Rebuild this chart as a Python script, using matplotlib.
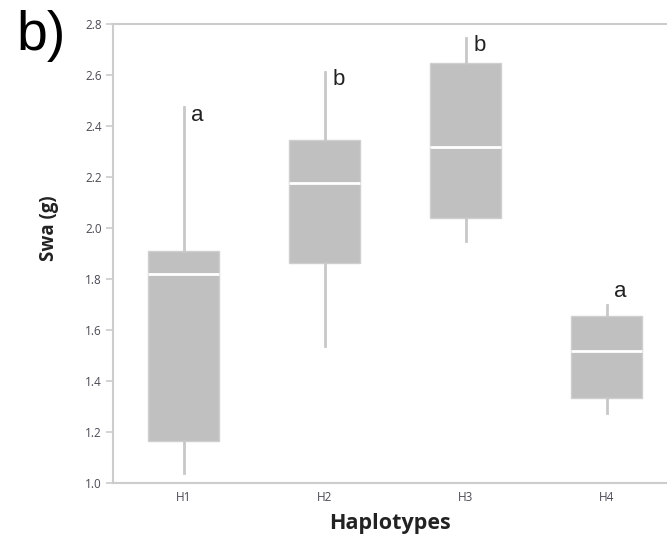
import matplotlib
matplotlib.use("Agg")
import matplotlib.pyplot as plt

# data
haplotypes = ["H1", "H2", "H3", "H4"]
whislo = [1.037, 1.536, 1.948, 1.275]
q1 = [1.164, 1.860, 2.039, 1.333]
med = [1.820, 2.176, 2.318, 1.518]
q3 = [1.909, 2.344, 2.645, 1.655]
whishi = [2.472, 2.612, 2.745, 1.697]
letters = ["a", "b", "b", "a"]
letter_y = [2.44, 2.58, 2.716, 1.748]

stats = []
for i in range(len(haplotypes)):
    stats.append(dict(label=haplotypes[i], whislo=whislo[i], q1=q1[i], med=med[i],
                      q3=q3[i], whishi=whishi[i], fliers=[]))

fig = plt.figure(figsize=(6.67, 5.39), dpi=100)
ax = fig.add_axes([113/667, 1 - 482.7/539, 564/667, 459/539])

grey = "#c0c0c0"
ax.bxp(stats, positions=range(4), widths=0.5, patch_artist=True, showcaps=False,
       boxprops=dict(facecolor=grey, edgecolor="#cfcfcf", linewidth=1),
       medianprops=dict(color="white", linewidth=2),
       whiskerprops=dict(color="#c8c8c8", linewidth=2))

for i, t in enumerate(letters):
    ax.text(i + 0.1, letter_y[i], t, ha="center", va="center",
            fontsize=16, family="Liberation Sans", color="#222222")

ax.set_xlim(-0.5, 3.5)
ax.set_ylim(1.0, 2.8)
ax.set_yticks([1.0, 1.2, 1.4, 1.6, 1.8, 2.0, 2.2, 2.4, 2.6, 2.8])
ax.set_yticklabels(["1.0", "1.2", "1.4", "1.6", "1.8", "2.0", "2.2", "2.4", "2.6", "2.8"])
ax.set_xticks(range(4))
ax.set_xticklabels(haplotypes)

for s in ax.spines.values():
    s.set_color("#cccccc")
    s.set_linewidth(1.5)
ax.spines["right"].set_visible(False)
ax.tick_params(axis="y", length=5, width=1.2, color="#cccccc", labelsize=8.5,
               labelcolor="#4a4a55", pad=3)
ax.tick_params(axis="x", length=0, labelsize=8.5, labelcolor="#4a4a55", pad=6)
for lab in ax.get_xticklabels() + ax.get_yticklabels():
    lab.set_family("Open Sans")

fig.text(390/667, 1 - 523/539, "Haplotypes", ha="center", va="center",
         fontsize=15.5, fontweight="bold", family="Open Sans", color="#222222")
fig.text(49/667, 1 - 228/539, "Swa (g)", ha="center", va="center", rotation=90,
         fontsize=13.5, fontweight="bold", family="Open Sans", color="#222222")
fig.text(16/667, 1 - 36/539, "b)", ha="left", va="center",
         fontsize=40, family="Liberation Sans", color="black")

fig.savefig("out.png", dpi=100)
